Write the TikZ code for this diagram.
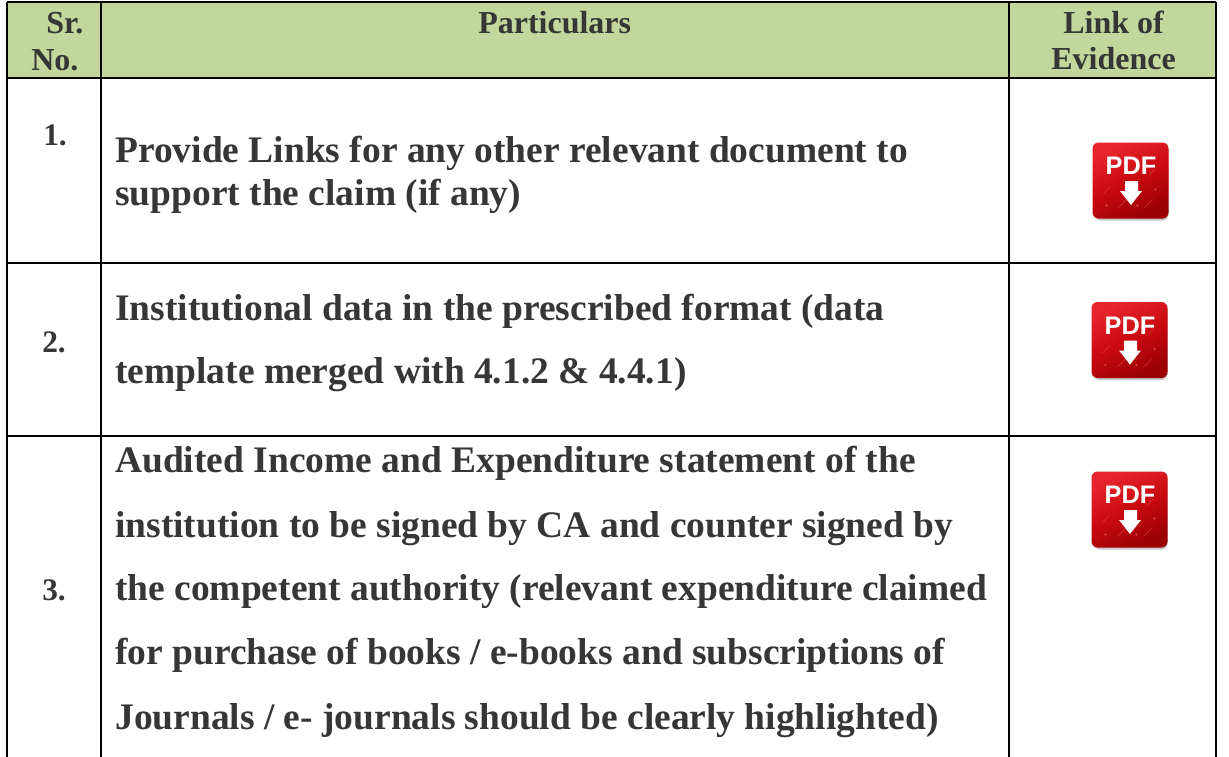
\documentclass[tikz,border=0pt]{standalone}
\usepackage{fontspec}
\setmainfont{Liberation Serif}
\newfontfamily\iconfont{Liberation Sans}
\definecolor{headgreen}{HTML}{C3D69B}
\definecolor{inkgrey}{HTML}{363636}
\definecolor{iconred}{HTML}{C80A10}
\definecolor{iconlight}{HTML}{E6262C}
\definecolor{icondark}{HTML}{9A0004}
\definecolor{iconmark}{HTML}{D9383C}
\tikzset{
  x=0.75pt,y=-0.75pt,
  rule/.style={draw=black,line width=1.7pt},
  headtxt/.style={font=\fontsize{24pt}{24pt}\selectfont\bfseries,text=inkgrey,anchor=base west,inner sep=0pt},
  numtxt/.style={font=\fontsize{23.5pt}{24pt}\selectfont\bfseries,text=inkgrey,anchor=base west,inner sep=0pt},
  bodytxt/.style={font=\fontsize{28.1pt}{32pt}\selectfont\bfseries,text=inkgrey,anchor=base west,inner sep=0pt},
  pics/pdficon/.style={code={
    \fill[black!22,rounded corners=4pt] (-36,-36) rectangle (38,40);
    \shade[top color=iconlight,bottom color=icondark,middle color=iconred,shading angle=25,rounded corners=4.5pt] (-38,-38) rectangle (38,38);
    \draw[iconmark,line width=0.3pt] (-27,13) -- (-20,6) (-12,27) -- (-4,19) (14,27) -- (22,19) (17,-4) -- (24,-11);
    \fill[iconmark] (-24,25) circle (1.3) (7,25) circle (1.3) (25,9) circle (1.3);
    \node[font=\iconfont\bfseries\fontsize{19pt}{19pt}\selectfont,text=white,inner sep=0pt] at (0.5,-14.5) {PDF};
    \fill[white] (-5.5,0.5) -- (7.5,0.5) -- (7.5,10.5) -- (11.5,10.5) -- (0.5,24.5) -- (-10.5,10.5) -- (-5.5,10.5) -- cycle;
  }}
}
\begin{document}
\begin{tikzpicture}
\useasboundingbox (0,0) rectangle (1229,757);
\fill[white] (0,0) rectangle (1229,757);
\fill[headgreen] (7,2) rectangle (1216,78);
\coordinate (tl) at (7,2); \coordinate (tr) at (1216,2);
\coordinate (hl) at (7,78); \coordinate (hr) at (1216,78);
\coordinate (al) at (7,263); \coordinate (ar) at (1216,263);
\coordinate (bl) at (7,436); \coordinate (br) at (1216,436);
\coordinate (el) at (7,757); \coordinate (er) at (1216,757);
\coordinate (c1t) at (101,2); \coordinate (c1b) at (101,757);
\coordinate (c2t) at (1009,2); \coordinate (c2b) at (1009,757);
\draw[rule] (tl)--(tr) (hl)--(hr) (al)--(ar) (bl)--(br) (tl)--(el) (tr)--(er) (c1t)--(c1b) (c2t)--(c2b);
\node[headtxt] (h1a) at (46,33) {Sr.};
\node[headtxt] (h1b) at (31,70) {No.};
\node[headtxt] (h2) at (478,33) {Particulars};
\node[headtxt] (h3a) at (1063,33) {Link of};
\node[headtxt] (h3b) at (1051,69) {Evidence};
\node[numtxt] (n1) at (43,145) {1.};
\node[numtxt] (n2) at (42,352) {2.};
\node[numtxt] (n3) at (42,600) {3.};
\node[bodytxt] (t1a) at (115,162) {Provide Links for any other relevant document to};
\node[bodytxt] (t1b) at (115,205) {support the claim (if any)};
\node[bodytxt] (t2a) at (115,320) {Institutional data in the prescribed format (data};
\node[bodytxt] (t2b) at (115,383) {template merged with 4.1.2 \& 4.4.1)};
\node[bodytxt] (t3a) at (115,472) {Audited Income and Expenditure statement of the};
\node[bodytxt] (t3b) at (115,537) {institution to be signed by CA and counter signed by};
\node[bodytxt] (t3c) at (115,600) {the competent authority (relevant expenditure claimed};
\node[bodytxt] (t3d) at (115,664) {for purchase of books / e-books and subscriptions of};
\node[bodytxt] (t3e) at (115,729) {Journals / e- journals should be clearly highlighted)};
\pic at (1130.5,180.5) {pdficon};
\pic at (1129.5,340) {pdficon};
\pic at (1129.5,509.5) {pdficon};
\end{tikzpicture}
\end{document}
